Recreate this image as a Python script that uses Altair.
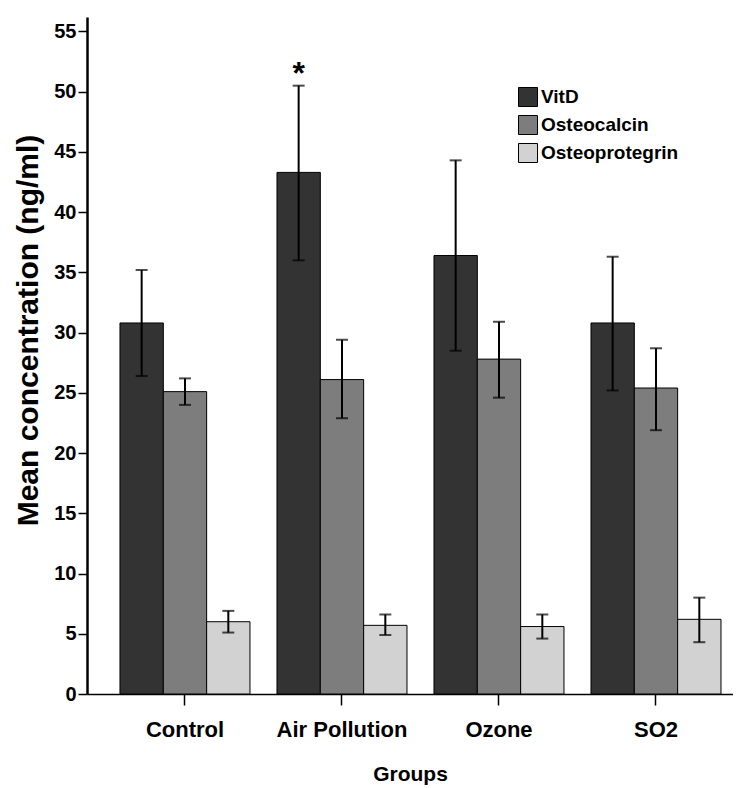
import altair as alt
import pandas as pd

groups = ["Control", "Air Pollution", "Ozone", "SO2"]
series = ["VitD", "Osteocalcin", "Osteoprotegrin"]

vitd = [30.8, 43.3, 36.4, 30.8]
vitd_lo = [26.4, 36.0, 28.5, 25.2]
vitd_hi = [35.2, 50.5, 44.3, 36.3]

osteocalcin = [25.1, 26.1, 27.8, 25.4]
osteocalcin_lo = [24.0, 22.9, 24.6, 21.9]
osteocalcin_hi = [26.2, 29.4, 30.9, 28.7]

osteoprotegrin = [6.0, 5.7, 5.6, 6.2]
osteoprotegrin_lo = [5.1, 4.9, 4.6, 4.3]
osteoprotegrin_hi = [6.9, 6.6, 6.6, 8.0]

y_ticks = [0, 5, 10, 15, 20, 25, 30, 35, 40, 45, 50, 55]
colors = ["#333333", "#7d7d7d", "#d2d2d2"]

star_group = ["Air Pollution"]
star_series = ["VitD"]
star_value = [50.5]
star_text = ["*"]

rows = []
for s, vals, los, his in [
    ("VitD", vitd, vitd_lo, vitd_hi),
    ("Osteocalcin", osteocalcin, osteocalcin_lo, osteocalcin_hi),
    ("Osteoprotegrin", osteoprotegrin, osteoprotegrin_lo, osteoprotegrin_hi),
]:
    for g, v, lo, hi in zip(groups, vals, los, his):
        rows.append({"group": g, "series": s, "value": v, "lo": lo, "hi": hi})
df = pd.DataFrame(rows)
star_df = pd.DataFrame({"group": star_group, "series": star_series,
                        "value": star_value, "text": star_text})

FONT = "Liberation Sans"

x_enc = alt.X(
    "group:N", sort=groups,
    scale=alt.Scale(paddingInner=0.172, paddingOuter=0.1433, align=0.733),
    axis=alt.Axis(
        title="Groups", labelAngle=0, labelFontSize=22, labelFontWeight="bold",
        labelFont=FONT, labelColor="black", labelPadding=14,
        tickColor="black", tickSize=11, tickWidth=1.5,
        domainColor="black", domainWidth=1.5,
        titleFontSize=21, titleFontWeight="bold", titleFont=FONT,
        titleColor="black", titleBaseline="alphabetic", titleY=86,
    ),
)
xo_enc = alt.XOffset("series:N", sort=series,
                     scale=alt.Scale(paddingInner=0, paddingOuter=0))

bars = alt.Chart(df).mark_bar(stroke="black", strokeWidth=1).encode(
    x=x_enc,
    xOffset=xo_enc,
    y=alt.Y(
        "value:Q",
        scale=alt.Scale(domain=[0, 56.2], nice=False),
        axis=alt.Axis(
            title="Mean concentration (ng/ml)", values=y_ticks, grid=False,
            labelFontSize=20, labelFontWeight="bold", labelFont=FONT,
            labelColor="black", labelPadding=2,
            tickColor="black", tickSize=9, tickWidth=1.5,
            domainColor="black", domainWidth=2.5,
            titleFontSize=30, titleFontWeight="bold", titleFont=FONT,
            titleColor="black", titleX=-44, titleY=313,
        ),
    ),
    color=alt.Color(
        "series:N", sort=series,
        scale=alt.Scale(domain=series, range=colors),
        legend=alt.Legend(
            title=None, orient="none", legendX=431, legendY=70,
            symbolType="square", symbolSize=361, symbolStrokeColor="black",
            symbolStrokeWidth=1, symbolOpacity=1, labelFontSize=19,
            labelFontWeight="bold", labelFont=FONT, labelColor="black",
            labelOffset=3, rowPadding=4, padding=0,
        ),
    ),
)

err = alt.Chart(df).mark_rule(color="black", strokeWidth=2).encode(
    x=alt.X("group:N", sort=groups), xOffset=alt.XOffset("series:N", sort=series),
    y="lo:Q", y2="hi:Q",
)
cap_lo = alt.Chart(df).mark_tick(color="black", thickness=2, size=12, orient="horizontal").encode(
    x=alt.X("group:N", sort=groups), xOffset=alt.XOffset("series:N", sort=series),
    y="lo:Q",
)
cap_hi = alt.Chart(df).mark_tick(color="black", thickness=2, size=12, orient="horizontal").encode(
    x=alt.X("group:N", sort=groups), xOffset=alt.XOffset("series:N", sort=series),
    y="hi:Q",
)
star = alt.Chart(star_df).mark_text(
    fontSize=32, fontWeight="bold", font=FONT, baseline="alphabetic", dy=-2, color="black"
).encode(
    x=alt.X("group:N", sort=groups), xOffset=alt.XOffset("series:N", sort=series),
    y="value:Q", text="text:N",
)

chart = alt.layer(bars, err, cap_lo, cap_hi, star).properties(
    width=646, height=677,
    padding={"left": 79, "top": 9, "right": 0, "bottom": 92},
    autosize=alt.AutoSizeParams(type="none"),
    background="white",
).configure_view(stroke=None)

chart.save("out.html", embed_options={"renderer": "svg", "actions": False})
